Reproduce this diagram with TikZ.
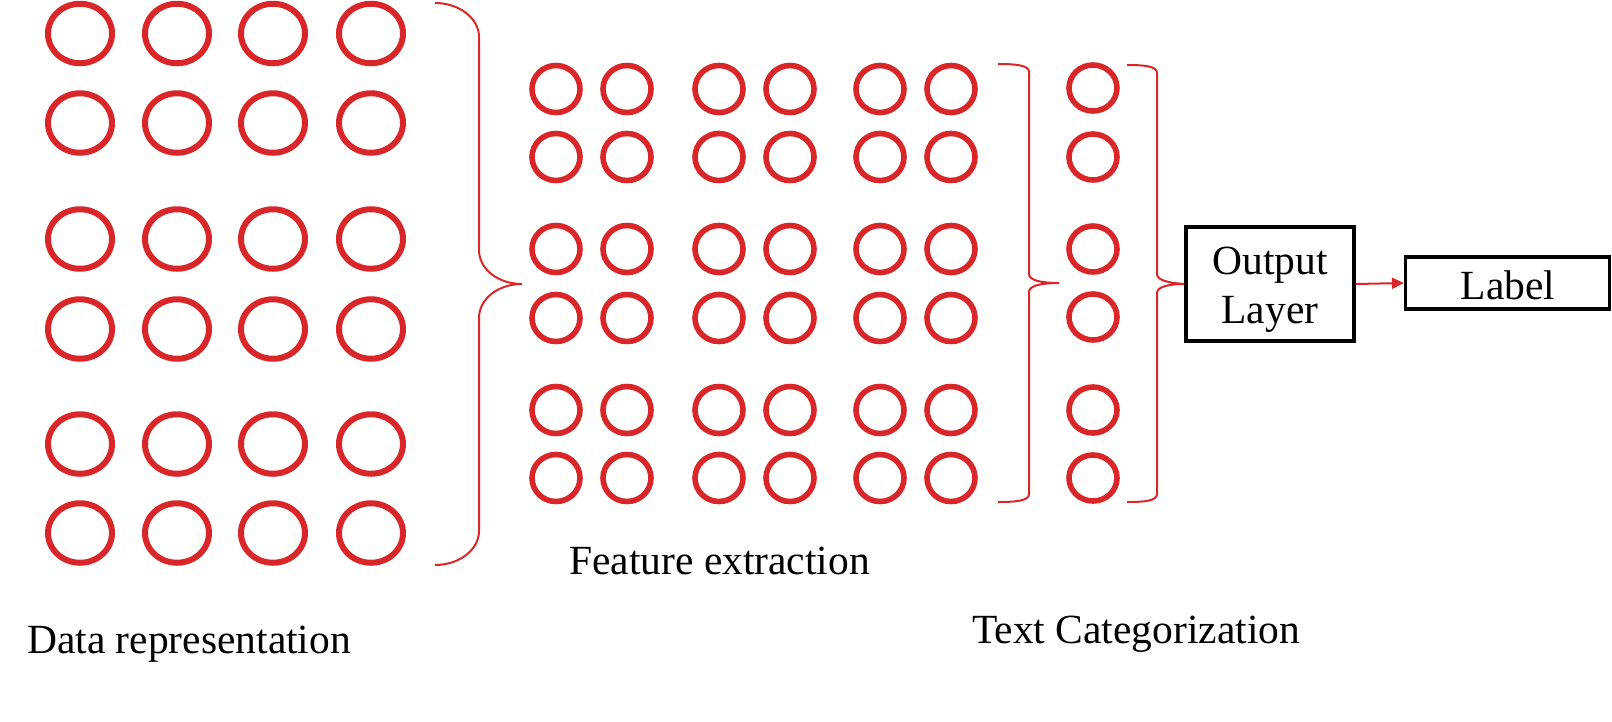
\documentclass[tikz,border=0pt]{standalone}
\usepackage{fontspec}
\setmainfont{Liberation Serif}
\usetikzlibrary{shapes.geometric,arrows.meta}
\definecolor{nred}{RGB}{217,38,40}
\begin{document}
\begin{tikzpicture}[x=1pt,y=-1pt,
  dr/.style={ellipse,draw=nred,line width=6pt,minimum width=64pt,minimum height=59.5pt,inner sep=0pt},
  fe/.style={ellipse,draw=nred,line width=5.6pt,minimum width=48pt,minimum height=47pt,inner sep=0pt},
  tc/.style={ellipse,draw=nred,line width=5.6pt,minimum width=48pt,minimum height=46pt,inner sep=0pt},
  brace/.style={draw=nred,line width=2pt},
  box/.style={draw=black,line width=3.2pt,inner sep=0pt},
  lbl/.style={font=\fontsize{41.5}{49}\selectfont,inner sep=0pt}]
\useasboundingbox (0,0) rectangle (1612,721);
% Data representation
\foreach \x [count=\i] in {80,177,273,371}
  \foreach \y [count=\j] in {33.5,123,239,329,444,533}
    \node[dr] (d\i\j) at (\x,\y) {};
% Feature extraction
\foreach \x [count=\i] in {556,627,719,790,880,951}
  \foreach \y [count=\j] in {89,157,249,318,410,478}
    \node[fe] (f\i\j) at (\x,\y) {};
% Text categorization
\foreach \y [count=\j] in {88,157,249,317,410,478}
  \node[tc] (t\j) at (1093,\y) {};
% boxes
\node[box,minimum width=168pt,minimum height=114pt] (out) at (1270,284) {};
\node[lbl,anchor=base] (outa) at (1270,274) {Output};
\node[lbl,anchor=base] (outb) at (1270,323) {Layer};
\node[box,minimum width=204pt,minimum height=52pt] (lab) at (1507.5,283) {};
\node[lbl,anchor=base] (labt) at (1508,299) {Label};
% braces
\coordinate (b1tip) at (522,284);
\draw[brace] (435,3) .. controls (459,3) and (479,18) .. (479,37) -- (479,250)
  .. controls (479,269) and (498,284) .. (b1tip)
  .. controls (498,284) and (479,299) .. (479,318) -- (479,531)
  .. controls (479,550) and (459,565) .. (435,565);
\coordinate (b2tip) at (1059,283);
\draw[brace] (998,64) .. controls (1015,64) and (1029,65) .. (1029,72) -- (1029,274)
  .. controls (1029,280) and (1040,283) .. (b2tip)
  .. controls (1040,283) and (1029,286) .. (1029,292) -- (1029,494)
  .. controls (1029,501) and (1015,502) .. (998,502);
\draw[brace] (1127,65) .. controls (1144,65) and (1157,66) .. (1157,73) -- (1157,274)
  .. controls (1157,280) and (1168,283) .. (out.west)
  .. controls (1168,284) and (1157,287) .. (1157,293) -- (1157,494)
  .. controls (1157,501) and (1144,502) .. (1127,502);
% arrow
\draw[nred,line width=2pt,-{Triangle[length=12pt,width=11pt]}] (out.east) -- (lab.west);
% captions
\node[lbl,anchor=base west] (cap1) at (27,653) {Data representation};
\node[lbl,anchor=base west] (cap2) at (569,574) {Feature extraction};
\node[lbl,anchor=base west] (cap3) at (972,643) {Text Categorization};
\end{tikzpicture}
\end{document}
